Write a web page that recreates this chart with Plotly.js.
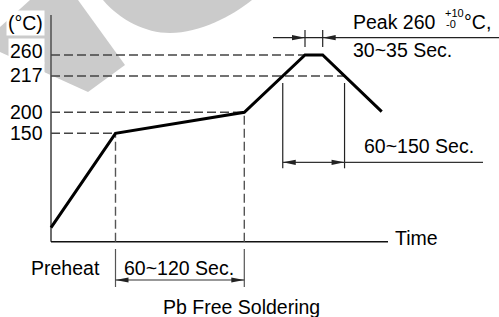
<!DOCTYPE html>
<html><head><meta charset="utf-8">
<script src="https://cdn.plot.ly/plotly-3.0.1.min.js"></script>
<style>html,body{margin:0;padding:0;background:#fff}#chart{width:499px;height:317px}</style>
</head><body><div id="chart"></div>
<script>
// Schematic reflow profile (time positions and drawn temperature levels)
const timePts = [0, 64.5, 193.3, 254, 271.7, 330.7];
const profileLevels = [14, 108.4, 129.4, 186.7, 186.7, 130];
const tempLabels = ['150', '200', '217', '260'];
const tempLevels = [108.4, 129.4, 165.7, 186.7];
const spanLabels = ['60~120 Sec.', '60~150 Sec.', '30~35 Sec.'];
const axisLabels = ['(°C)', 'Time'];
const titleText = 'Pb Free Soldering';

const FONT = 'Liberation Sans, Arial, sans-serif';
const FS = 19.5;

function cross(level, seg) {
  const t0 = timePts[seg], t1 = timePts[seg + 1], y0 = profileLevels[seg], y1 = profileLevels[seg + 1];
  return t0 + (level - y0) / (y1 - y0) * (t1 - t0);
}
const t217up = cross(tempLevels[2], 2);
const t217down = cross(tempLevels[2], 4);

const traces = [];
function line(xs, ys, color, width, dash) {
  traces.push({type: 'scatter', mode: 'lines', x: xs, y: ys,
    line: {color: color, width: width, dash: dash || 'solid'}, hoverinfo: 'skip', showlegend: false});
}
const DASH = '9px,4px';
// axes
line([0, 0], [0, 226.7], '#6e6e6e', 2);
line([0, 337], [0, 0], '#111', 1.6);
// dashed guide lines
line([0, timePts[1]], [tempLevels[0], tempLevels[0]], '#444', 1.4, DASH);
line([0, timePts[2]], [tempLevels[1], tempLevels[1]], '#444', 1.4, DASH);
line([0, t217down], [tempLevels[2], tempLevels[2]], '#444', 1.4, DASH);
line([0, timePts[3]], [tempLevels[3], tempLevels[3]], '#444', 1.4, DASH);
line([timePts[1], timePts[1]], [0, profileLevels[1]], '#555', 1.4, DASH);
line([timePts[2], timePts[2]], [0, profileLevels[2]], '#555', 1.4, DASH);
// preheat bracket
line([timePts[1], timePts[1]], [-7.3, -45.3], '#555', 1.2);
line([timePts[2], timePts[2]], [-7.3, -45.3], '#555', 1.2);
line([timePts[1], timePts[2]], [-38.3, -38.3], '#333', 1.2);
// 60~150 bracket
line([t217up, t217up], [158.7, 73.4], '#222', 1.2);
line([t217down, t217down], [158.7, 73.4], '#222', 1.2);
line([t217up, 432], [79.4, 79.4], '#333', 1.2);
// peak bracket
line([timePts[3], timePts[3]], [211.7, 194.7], '#222', 1.2);
line([timePts[4], timePts[4]], [211.7, 194.7], '#222', 1.2);
line([222, 448], [204, 204], '#222', 1.2);
// profile
line(timePts, profileLevels, '#000', 3);

function tri(xTip, y, dir) {
  const b = xTip - dir * 13;
  return {type: 'path', xref: 'x', yref: 'y', path: `M ${xTip},${y} L ${b},${y + 2.6} L ${b},${y - 2.6} Z`,
    fillcolor: '#222', line: {width: 0}, layer: 'above'};
}
// watermark helper: pixel -> data
function P(px, py) { return `${px - 51},${241.7 - py}`; }
const shapes = [
  {type: 'path', xref: 'x', yref: 'y', layer: 'below', fillcolor: '#cbcbcb', line: {width: 0},
   path: `M ${P(0,27)} L ${P(30,0)} L ${P(78,0)} L ${P(125,65)} L ${P(88,92)} L ${P(0,52)} Z`},
  {type: 'path', xref: 'x', yref: 'y', layer: 'below', fillcolor: '#cbcbcb', line: {width: 0},
   path: `M ${P(103,0)} C ${P(120,20)} ${P(145,33)} ${P(170,33)} C ${P(200,33)} ${P(232,16)} ${P(252,0)} Z`},
  tri(timePts[1], -38.3, -1), tri(timePts[2], -38.3, 1),
  tri(t217up, 79.4, -1), tri(t217down, 79.4, 1),
  tri(timePts[3], 204, 1), tri(timePts[4], 204, -1)
];

function ann(text, x, y, xanchor, opts) {
  return Object.assign({text: text, x: x, y: y, xref: 'x', yref: 'y', xanchor: xanchor, yanchor: 'middle',
    showarrow: false, font: {family: FONT, size: FS, color: '#000'}}, opts || {});
}
const annotations = [];
const tickShift = [0, 0, 1, 4];
tempLabels.forEach((t, i) => annotations.push(ann(t, -6, tempLevels[i], 'right', {yshift: tickShift[i], bgcolor: '#fff'})));
annotations.push(ann(axisLabels[0], -6, 218.7, 'right', {bgcolor: '#fff'}));
annotations.push(ann(axisLabels[1], 342, 4.2, 'left'));
annotations.push(ann('Preheat', 51, -25.8, 'right'));
annotations.push(ann(spanLabels[0], 71, -25.8, 'left'));
annotations.push(ann(titleText, 190.7, -65.3, 'center'));
annotations.push(ann(spanLabels[1], 311, 95.7, 'left'));
annotations.push(ann('Peak 260', 299.7, 219.7, 'left'));
annotations.push(ann('+10', 391.5, 229.2, 'left', {font: {family: FONT, size: 11, color: '#000'}}));
annotations.push(ann('-0', 392.5, 217.7, 'left', {font: {family: FONT, size: 11, color: '#000'}}));
annotations.push(ann('°C,', 411, 219.7, 'left'));
annotations.push(ann(spanLabels[2], 299.7, 191.7, 'left'));

const layout = {
  width: 499, height: 317, margin: {l: 0, r: 0, t: 0, b: 0},
  paper_bgcolor: '#fff', plot_bgcolor: '#fff', showlegend: false,
  xaxis: {range: [-51, 448], visible: false, fixedrange: true},
  yaxis: {range: [-75.3, 241.7], visible: false, fixedrange: true},
  shapes: shapes, annotations: annotations
};
Plotly.newPlot('chart', traces, layout, {staticPlot: true, displayModeBar: false});
</script></body></html>
